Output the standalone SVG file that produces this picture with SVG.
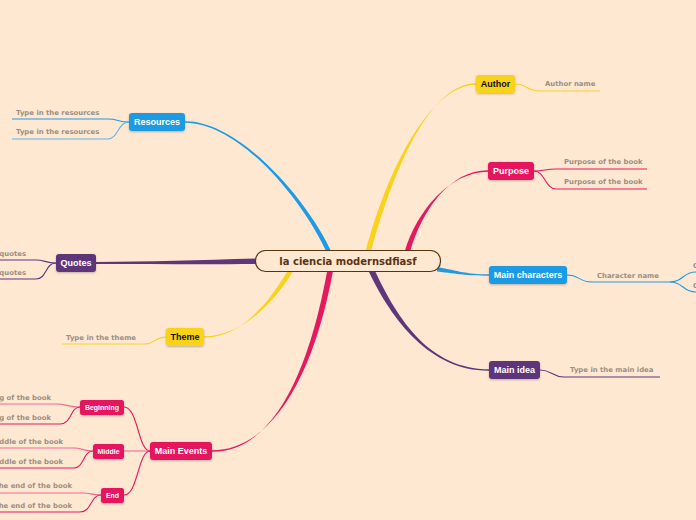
<svg xmlns="http://www.w3.org/2000/svg" width="696" height="520" viewBox="0 0 696 520">
<defs>
<filter id="sh" x="-20%" y="-30%" width="140%" height="170%"><feDropShadow dx="0" dy="1" stdDeviation="0.8" flood-color="#000" flood-opacity="0.25"/></filter>
<style>
text{font-family:"DejaVu Sans","Liberation Sans",sans-serif;font-weight:bold}
.main{font-family:"Liberation Sans",Arial,sans-serif;font-size:9px;text-anchor:middle;fill:#fff}
.dark{fill:#111}
.sub{font-family:"Liberation Sans",Arial,sans-serif;font-size:7px;text-anchor:middle;fill:#fff}
.lbl{font-size:6.9px;fill:#9b8e80}
.ln{fill:none;stroke-width:1.1}
.b{stroke:#1e9ae4}.p{stroke:#e5195e}.u{stroke:#5f3679}.y{stroke:#f9d21c}
.bl{stroke:#5db4ea}.pl{stroke:#ee6a93}.ul{stroke:#8a6aa0}
</style>
</defs>
<rect width="696" height="520" fill="#fee8d2"/>
<g id="connectors">
<path fill="#1e9ae4" d="M332.5 254 C308 200 240 121.2 185 121.3 L185 122.7 C240 123 303 200 327.5 254 Z"/>
<path fill="#f9d21c" d="M371 252 C393 170 430 83.3 476 83.3 L476 84.7 C430 85 387 170 365.5 252 Z"/>
<path fill="#e5195e" d="M410 252 C422 210 450 170.3 488 170.3 L488 171.7 C450 172 417 210 404.5 252 Z"/>
<path fill="#1e9ae4" d="M437 267 C460 271 465 274.3 489 274.3 L489 275.7 C465 275.7 460 274 437 271.5 Z"/>
<path fill="#5f3679" d="M375 271 C398 320 430 369.3 489 369.3 L489 370.7 C430 371 392 320 369 272 Z"/>
<path fill="#5f3679" d="M258 258.5 C200 260 150 262 96 262 L96 264 C150 264 200 264.5 258 264 Z"/>
<path fill="#f9d21c" d="M293 271 C273 305 240 336.3 204 336.3 L204 337.7 C240 338 267 305 287 272 Z"/>
<path fill="#e5195e" d="M333 271 C313 380 270 450.3 212 450.3 L212 451.7 C270 452 307 380 327 272 Z"/>
<path class="ln b" d="M129 122 C118 122 118 119 108 119 L12 119"/>
<path class="ln bl" d="M129 122 C118 122 118 139 108 139 L12 139" stroke-width="1.4"/>
<path class="ln u" d="M56 263 C45 263 45 260 36 260 L0 260"/>
<path class="ln u" d="M56 263 C45 263 47 279 36 279 L0 279"/>
<path class="ln y" d="M166 337 C155 337 155 344 145 344 L62 344"/>
<path class="ln p" d="M150 451 C138 451 138 407 124 407"/>
<path class="ln pl" d="M150 451 L124 451"/>
<path class="ln p" d="M150 451 C138 451 138 495 124 495"/>
<path class="ln pl" d="M80 407 C68 407 66 404 56 404 L0 404"/>
<path class="ln p" d="M80 407 C70 407 72 424 60 424 L0 424"/>
<path class="ln pl" d="M93 451 C83 451 82 448 74 448 L0 448"/>
<path class="ln p" d="M93 451 C83 451 84 468 74 468 L0 468"/>
<path class="ln pl" d="M101 495 C92 495 90 493 84 493 L0 493"/>
<path class="ln p" d="M101 495 C90 495 92 512 80 512 L0 512"/>
<path class="ln y" d="M515 84 C528 84 525 91 540 91 L600 91"/>
<path class="ln p" d="M534 171 C545 171 545 169 556 169 L647 169"/>
<path class="ln p" d="M534 171 C545 171 545 189 556 189 L647 189"/>
<path class="ln b" d="M567 275 C580 275 578 282 592 282 L670 282"/>
<path class="ln b" d="M670 282 C684 282 682 272 696 272"/>
<path class="ln b" d="M670 282 C684 282 682 292 696 292"/>
<path class="ln u" d="M540 370 C552 370 552 377 564 377 L660 377"/>
</g>
<g id="center">
<rect x="255.5" y="250.5" width="185" height="21" rx="10" fill="#fee8d2" stroke="#5c3311" stroke-width="1.2"/>
<text x="348" y="264.8" font-size="10" text-anchor="middle" fill="#5c3311">la ciencia modernsdfiasf</text>
</g>
<g id="author">
<rect x="476" y="75" width="39" height="18" rx="3" fill="#f9d21c" filter="url(#sh)"/>
<text class="main dark" x="495.5" y="87.2">Author</text>
<text class="lbl" x="545" y="86">Author name</text>
</g>
<g id="purpose">
<rect x="488" y="162" width="46" height="18" rx="3" fill="#e5195e" filter="url(#sh)"/>
<text class="main" x="511" y="174.2">Purpose</text>
<text class="lbl" x="564" y="164">Purpose of the book</text>
<text class="lbl" x="564" y="184">Purpose of the book</text>
</g>
<g id="main-characters">
<rect x="489" y="266" width="78" height="18" rx="3" fill="#1e9ae4" filter="url(#sh)"/>
<text class="main" x="528" y="278.2">Main characters</text>
<text class="lbl" x="597" y="278">Character name</text>
<text class="lbl" x="693" y="268">C</text>
<text class="lbl" x="693" y="288">C</text>
</g>
<g id="main-idea">
<rect x="489" y="361" width="51" height="18" rx="3" fill="#5f3679" filter="url(#sh)"/>
<text class="main" x="514.5" y="373.2">Main idea</text>
<text class="lbl" x="570" y="372">Type in the main idea</text>
</g>
<g id="resources">
<rect x="129" y="113" width="56" height="18" rx="3" fill="#1e9ae4" filter="url(#sh)"/>
<text class="main" x="157" y="125.2">Resources</text>
<text class="lbl" x="16" y="115">Type in the resources</text>
<text class="lbl" x="16" y="134">Type in the resources</text>
</g>
<g id="quotes">
<rect x="56" y="254" width="40" height="18" rx="3" fill="#5f3679" filter="url(#sh)"/>
<text class="main" x="76" y="266.2">Quotes</text>
<text class="lbl" x="26" y="256" text-anchor="end">quotes</text>
<text class="lbl" x="26" y="275" text-anchor="end">quotes</text>
</g>
<g id="theme">
<rect x="166" y="328" width="38" height="18" rx="3" fill="#f9d21c" filter="url(#sh)"/>
<text class="main dark" x="185" y="340.2">Theme</text>
<text class="lbl" x="66" y="340">Type in the theme</text>
</g>
<g id="main-events">
<rect x="150" y="442" width="62" height="18" rx="3" fill="#e5195e" filter="url(#sh)"/>
<text class="main" x="181" y="454.2">Main Events</text>
</g>
<g id="beginning">
<rect x="80" y="400" width="44" height="15" rx="2.5" fill="#e5195e" filter="url(#sh)"/>
<text class="sub" x="102" y="410">Beginning</text>
<text class="lbl" x="51" y="400" text-anchor="end">Type in the beginning of the book</text>
<text class="lbl" x="51" y="420" text-anchor="end">Type in the beginning of the book</text>
</g>
<g id="middle">
<rect x="93" y="444" width="31" height="15" rx="2.5" fill="#e5195e" filter="url(#sh)"/>
<text class="sub" x="108.5" y="454">Middle</text>
<text class="lbl" x="63" y="444" text-anchor="end">Type in the middle of the book</text>
<text class="lbl" x="63" y="464" text-anchor="end">Type in the middle of the book</text>
</g>
<g id="end">
<rect x="101" y="488" width="23" height="15" rx="2.5" fill="#e5195e" filter="url(#sh)"/>
<text class="sub" x="112.5" y="498">End</text>
<text class="lbl" x="72" y="488" text-anchor="end">Type in the end of the book</text>
<text class="lbl" x="72" y="508" text-anchor="end">Type in the end of the book</text>
</g>
</svg>
